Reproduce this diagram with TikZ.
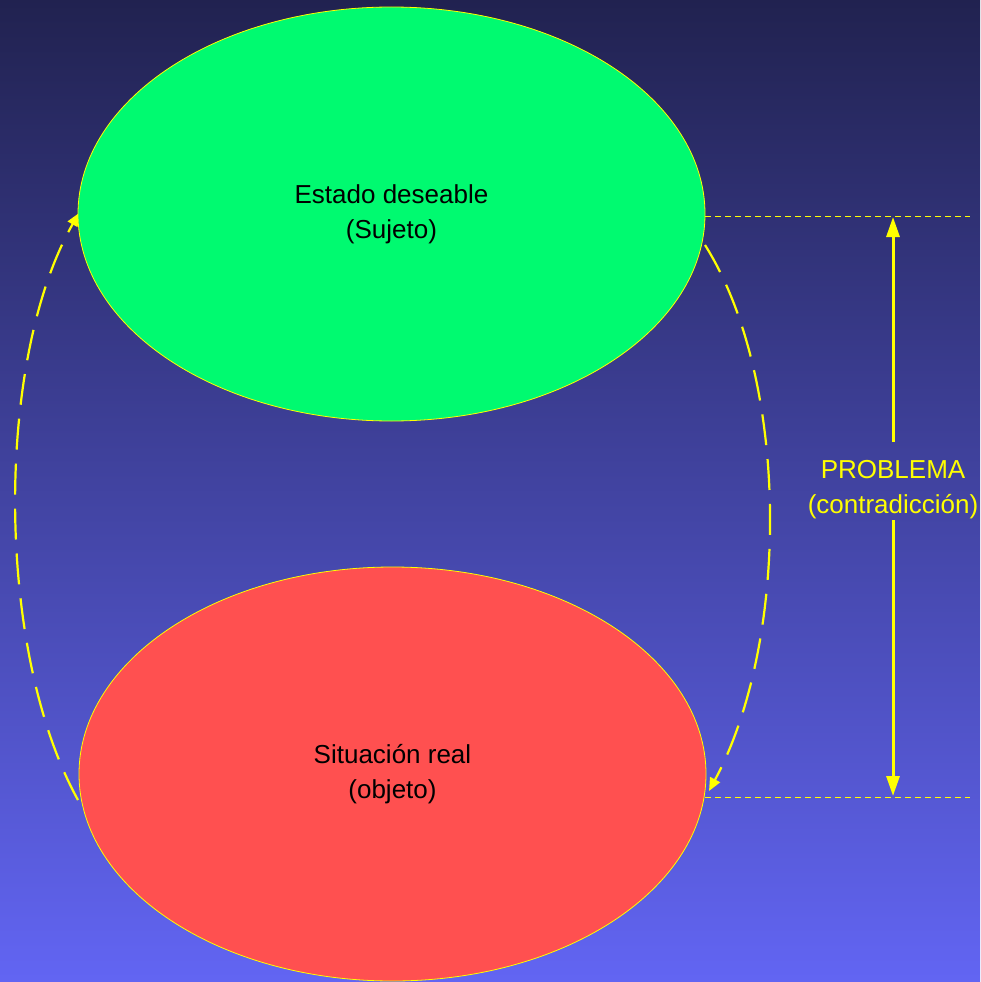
\documentclass[tikz,border=0pt]{standalone}
\usepackage{fontspec}
\setmainfont{Liberation Sans}
\usetikzlibrary{shapes.geometric,arrows.meta}
\definecolor{bgtop}{RGB}{33,34,80}
\definecolor{bgbot}{RGB}{98,101,243}
\definecolor{greenfill}{RGB}{0,250,112}
\definecolor{redfill}{RGB}{255,80,80}
\definecolor{yel}{RGB}{255,255,0}
\begin{document}
\begin{tikzpicture}[x=1pt,y=-1pt,
  blob/.style={ellipse, draw=yel, line width=0.8pt, minimum width=627pt, minimum height=414pt, inner sep=0pt, align=center, font=\fontsize{26}{35}\selectfont, text=black},
  guide/.style={draw=yel, line width=1pt, dash pattern=on 6pt off 4pt},
  dimarrow/.style={draw=yel, line width=3pt, -{Triangle[length=20pt,width=13pt]}},
  loop/.style={draw=yel, line width=2.2pt, dash pattern=on 31pt off 14pt, -{Triangle[length=13pt,width=11pt]}},
  lbl/.style={text=yel, align=center, font=\fontsize{26}{35}\selectfont, inner sep=2pt}]
\shade[top color=bgtop, bottom color=bgbot] (0,0) rectangle (980,982);
\useasboundingbox (0,0) rectangle (980,982);

\coordinate (ltop) at (705,216);
\coordinate (lend) at (970,216);
\coordinate (btop) at (705,797);
\coordinate (bend) at (970,797);
\coordinate (atop) at (893,217);
\coordinate (abot) at (893,796);
\coordinate (rs) at (705,245);
\coordinate (re) at (709,791);
\coordinate (ls) at (78,800);
\coordinate (le) at (79,213);

\draw[guide] (ltop) -- (lend);
\draw[guide] (btop) -- (bend);

\draw[loop] (ls) .. controls (-5,650) and (-5,360) .. (le);
\draw[loop] (rs) .. controls (790,380) and (790,640) .. (re);

\node[blob, fill=greenfill] (green) at (391.5,214) {Estado deseable\\(Sujeto)};
\node[blob, fill=redfill] (red) at (392.5,774) {Situación real\\(objeto)};

\node[lbl] (prob) at (893,490) {PROBLEMA\\(contradicción)};
\draw[dimarrow] (prob.north) ++(0,-17) -- (atop);
\draw[dimarrow] (prob.south) ++(0,-1) -- (abot);
\end{tikzpicture}
\end{document}
